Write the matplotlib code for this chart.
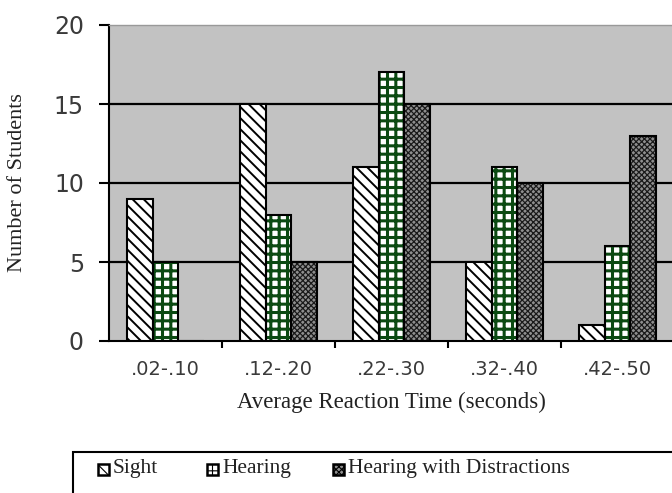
import matplotlib
matplotlib.use("Agg")
import matplotlib.pyplot as plt
import numpy as np
from matplotlib.patches import Rectangle

categories = [".02-.10", ".12-.20", ".22-.30", ".32-.40", ".42-.50"]
sight = [9, 15, 11, 5, 1]
hearing = [5, 8, 17, 11, 6]
distractions = [0, 5, 15, 10, 13]
series_names = ["Sight", "Hearing", "Hearing with Distractions"]
yticks = [0, 5, 10, 15, 20]

W, H = 672, 493
fig = plt.figure(figsize=(W/100, H/100), dpi=100)
ax = fig.add_axes([109/W, 152/H, 565/W, 316/H])
ax.set_facecolor("#c2c2c2")

x = np.arange(len(categories))
w = 0.23

styles = [
    dict(face="white", hatch="\\\\\\", hcol="black", hlw=1.4),
    dict(face="white", hatch="++", hcol="#0b4a12", hlw=2.2),
    dict(face="#8f8f8f", hatch="xxxxxx", hcol="#1a1a1a", hlw=0.9),
]
data = [sight, hearing, distractions]
for i, (vals, st) in enumerate(zip(data, styles)):
    pos = x + (i - 1) * w
    with plt.rc_context({"hatch.linewidth": st["hlw"]}):
        ax.bar(pos, vals, w, color=st["face"], edgecolor=st["hcol"],
               hatch=st["hatch"], linewidth=0, zorder=3)
    ax.bar(pos, vals, w, color="none", edgecolor="black",
           linewidth=1.5, zorder=4)

ax.set_xlim(-0.5, 4.5)
ax.set_ylim(0, 20)
ax.set_yticks(yticks)
ax.set_yticklabels([str(t) for t in yticks], fontsize=17, color="#3a3a3a",
                   family="DejaVu Sans")
ax.set_xticks(x)
ax.set_xticklabels(categories, fontsize=14, color="#3a3a3a", family="DejaVu Sans")
ax.set_xticks(np.arange(0.5, 4.5, 1.0), minor=True)
ax.tick_params(axis="x", which="major", length=0, pad=14)
ax.tick_params(axis="x", which="minor", length=5, width=1.5, direction="out")
ax.tick_params(axis="y", which="major", length=7, width=1.5, direction="out", pad=11)

for yv in [5, 10, 15]:
    ax.axhline(yv, color="black", linewidth=1.6, zorder=2)

for s in ["left", "bottom"]:
    ax.spines[s].set_linewidth(1.5)
    ax.spines[s].set_color("black")
ax.spines["top"].set_color("#999999")
ax.spines["top"].set_linewidth(1.0)
ax.spines["right"].set_visible(False)

ax.set_xlabel("Average Reaction Time (seconds)", family="Liberation Serif",
              fontsize=16.5, color="#222222")
ax.xaxis.set_label_coords(0.5, -(402 - 341) / 316, transform=ax.transAxes)
ax.xaxis.label.set_va("center")
ax.set_ylabel("Number of Students", family="Liberation Serif", fontsize=16,
              color="#222222")
ax.yaxis.set_label_coords((18 - 109) / 565, 0.5, transform=ax.transAxes)
ax.yaxis.label.set_va("center")

# legend box (drawn manually, extends past the figure edge)
box = Rectangle((73/W, -0.05), 0.95, (H - 452)/H + 0.05,
                transform=fig.transFigure, facecolor="white", edgecolor="black",
                linewidth=1.5, clip_on=False)
fig.patches.append(box)
marker_x = [98, 207, 333]
yc = 469
ms = 11
for mx, name, st in zip(marker_x, series_names, styles):
    with plt.rc_context({"hatch.linewidth": 0.8}):
        r = Rectangle((mx/W, (H - yc - ms/2)/H), ms/W, ms/H,
                      transform=fig.transFigure, facecolor=st["face"],
                      edgecolor="black", hatch=st["hatch"], linewidth=1.8,
                      clip_on=False)
    fig.patches.append(r)
    fig.text((mx + ms + 4)/W, (H - yc)/H, name, family="Liberation Serif",
             fontsize=15.5, color="#222222", va="center", ha="left")

fig.savefig("out.png", dpi=100)
